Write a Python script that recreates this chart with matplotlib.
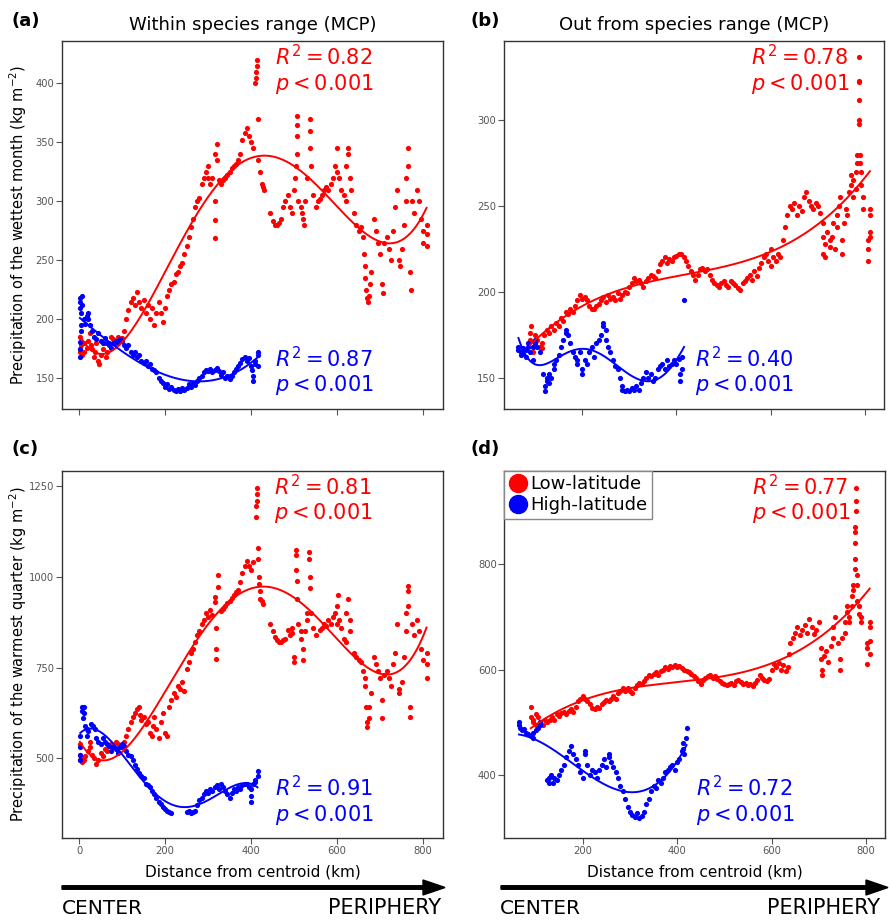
import numpy as np
import matplotlib.pyplot as plt
from matplotlib.patches import FancyArrow
from matplotlib.lines import Line2D

RED = '#ff0000'
BLUE = '#0000ff'

# (distance km, value)
a_low = [(2,185),(2,175),(3,172),(5,178),(8,170),(12,172),(12,180),(18,176),(22,182),(25,188),(28,178),(30,175),
         (35,168),(38,172),(40,180),(45,165),(47,162),(50,170),(55,175),(58,180),(62,168),(65,172),(70,180),(75,185),
         (80,183),(85,180),(90,185),(95,182),(100,184),(105,190),(110,200),(115,208),(120,215),(125,218),(130,212),
         (135,223),(140,215),(145,210),(150,216),(155,205),(160,212),(165,200),(170,210),(175,195),(180,205),(185,215),
         (190,205),(195,198),(200,210),(205,220),(210,225),(215,230),(220,232),(225,238),(230,240),(235,245),(240,248),
         (245,255),(250,262),(255,270),(260,278),(265,285),(270,295),(275,300),(280,303),(285,315),(290,320),(295,325),
         (300,330),(300,320),(305,315),(310,320),(315,340),(316,300),(316,284),(316,269),(320,349),(320,335),(325,318),
         (330,315),(335,318),(340,320),(345,322),(350,325),(355,328),(360,330),(365,332),(370,335),(375,340),(380,352),
         (385,358),(390,362),(395,355),(400,350),(405,345),(410,400),(411,405),(412,410),(413,415),(414,420),(415,370),
         (415,335),(420,325),(425,315),(428,312),(430,310),(445,290),(450,283),(455,280),(460,280),(465,282),(470,285),
         (475,295),(480,300),(485,305),(490,295),(495,290),(500,310),(502,320),(504,330),(506,372),(506,365),(506,355),
         (506,340),(510,300),(515,295),(518,290),(520,285),(523,280),(525,300),(530,320),(537,370),(537,360),(537,345),
         (540,330),(545,305),(550,295),(555,300),(560,302),(565,305),(570,310),(575,312),(580,310),(585,315),(590,320),
         (595,330),(600,325),(600,345),(605,320),(610,310),(615,305),(620,300),(620,330),(625,345),(625,340),(630,320),
         (633,310),(640,290),(645,280),(650,275),(655,278),(660,270),(663,255),(665,245),(666,235),(668,225),(670,218),
         (673,215),(675,220),(677,230),(680,240),(685,285),(690,275),(695,265),(700,255),(705,230),(706,222),(710,265),
         (715,270),(720,260),(725,250),(730,275),(735,295),(740,310),(745,250),(746,245),(750,260),(755,280),(760,300),
         (761,320),(765,345),(765,330),(770,240),(771,225),(775,300),(780,290),(785,310),(790,300),(795,285),(800,275),
         (800,265),(808,280),(808,272),(808,262)]
a_high = [(2,181),(2,175),(2,168),(3,218),(3,215),(3,210),(4,205),(4,195),(4,190),(8,220),(8,212),(12,200),(15,196),
          (18,203),(20,200),(22,205),(25,195),(30,190),(35,185),(40,183),(45,188),(50,182),(55,180),(60,184),(65,180),
          (70,178),(75,176),(80,180),(85,182),(90,180),(95,183),(100,182),(105,178),(110,176),(115,178),(120,172),
          (125,170),(130,172),(135,168),(140,170),(145,165),(150,163),(155,165),(160,160),(165,162),(170,158),(175,157),
          (180,155),(185,150),(190,148),(195,146),(200,143),(205,145),(210,141),(215,143),(220,140),(225,139),(230,141),
          (235,139),(240,142),(245,140),(250,142),(255,145),(260,143),(265,146),(270,144),(275,148),(280,150),(285,152),
          (290,155),(295,157),(300,156),(305,158),(310,155),(315,157),(320,159),(325,156),(330,153),(335,155),(340,150),
          (345,152),(350,149),(355,152),(360,155),(365,158),(370,160),(375,163),(380,166),(385,168),(390,165),(395,167),
          (400,160),(403,157),(405,152),(405,148),(410,162),(410,165),(415,170),(415,172),(415,160)]

b_low = [(90,172),(90,176),(92,180),(95,168),(96,165),(100,175),(100,170),(105,172),(110,168),(115,170),(115,167),
         (120,175),(125,178),(130,176),(135,180),(140,178),(145,182),(150,180),(155,185),(160,183),(165,188),(170,187),
         (175,190),(180,188),(185,192),(190,195),(195,198),(200,196),(205,197),(210,195),(215,192),(220,190),(225,190),
         (230,192),(235,193),(240,195),(245,197),(250,194),(255,198),(260,196),(265,197),(270,195),(275,199),(280,196),
         (285,198),(290,200),(295,199),(300,203),(305,205),(310,208),(315,206),(320,207),(325,205),(330,203),(335,206),
         (340,208),(345,210),(350,209),(355,208),(360,212),(365,216),(370,218),(375,220),(380,217),(385,219),(390,218),
         (395,220),(400,221),(405,222),(410,222),(415,220),(420,218),(425,215),(430,212),(435,210),(440,207),(445,210),
         (450,213),(455,214),(460,212),(465,213),(470,210),(475,207),(480,205),(485,204),(490,203),(495,205),(500,206),
         (505,204),(510,203),(515,206),(520,205),(525,204),(530,202),(535,201),(540,205),(545,206),(550,208),(555,210),
         (560,207),(565,212),(570,209),(575,214),(580,217),(585,220),(590,222),(595,218),(600,215),(600,225),(605,220),
         (610,218),(615,222),(620,220),(625,230),(630,238),(635,245),(640,250),(645,248),(650,252),(655,245),(660,250),
         (665,247),(670,255),(675,258),(680,253),(685,250),(690,248),(695,252),(700,250),(705,246),(710,240),(710,232),
         (711,222),(715,228),(715,220),(720,235),(725,230),(726,226),(730,232),(731,240),(735,225),(740,245),(741,238),
         (745,250),(746,255),(750,230),(751,222),(755,240),(760,248),(761,245),(765,258),(770,262),(770,268),(775,255),
         (775,265),(780,270),(780,260),(783,275),(783,280),(786,300),(786,298),(786,312),(786,322),(786,323),(786,337),
         (790,280),(790,275),(791,270),(791,262),(795,255),(795,248),(805,225),(805,218),(805,230),(810,245),(810,248),
         (810,235),(810,232)]
b_high = [(65,168),(65,166),(70,165),(70,163),(75,167),(75,164),(80,162),(80,166),(85,168),(85,170),(90,165),(95,160),
          (95,168),(100,170),(100,172),(105,168),(110,165),(118,152),(122,142),(122,145),(126,148),(126,150),(130,152),
          (130,147),(135,150),(140,155),(140,158),(145,160),(150,163),(155,168),(160,172),(165,176),(166,178),(170,175),
          (175,170),(180,165),(185,162),(190,160),(190,158),(195,165),(200,155),(200,152),(205,160),(210,158),(215,165),
          (220,168),(225,162),(230,170),(235,172),(240,175),(245,182),(245,180),(250,178),(250,172),(255,168),(260,165),
          (265,160),(270,157),(275,155),(280,150),(285,145),(285,143),(290,142),(295,143),(300,142),(305,144),(310,143),
          (315,145),(320,143),(325,147),(330,150),(335,153),(340,150),(345,152),(350,148),(355,150),(360,155),(365,157),
          (370,158),(375,155),(380,160),(385,157),(390,158),(395,160),(400,158),(405,161),(408,148),(408,152),(412,162),
          (412,155),(416,195)]

c_low = [(2,540),(2,510),(3,495),(5,500),(8,490),(12,495),(15,505),(20,520),(25,530),(26,545),(30,510),(35,500),
         (40,485),(45,495),(50,515),(55,505),(60,525),(65,520),(70,535),(75,540),(80,530),(85,545),(90,540),(95,535),
         (100,530),(105,545),(110,560),(115,580),(120,600),(125,615),(130,625),(135,635),(140,640),(142,620),(145,605),
         (150,615),(155,595),(160,600),(165,570),(170,560),(171,590),(175,615),(180,580),(185,555),(190,600),(195,625),
         (200,570),(205,560),(210,640),(215,660),(220,680),(225,670),(230,700),(235,690),(240,710),(245,685),(250,745),
         (255,765),(260,790),(265,800),(270,820),(275,840),(280,850),(285,870),(290,880),(295,900),(300,890),(305,910),
         (310,895),(315,930),(316,945),(318,860),(318,800),(318,775),(324,1006),(324,973),(330,905),(335,912),(340,920),
         (345,928),(350,935),(355,942),(360,950),(365,958),(370,965),(375,985),(380,1010),(385,1030),(390,1045),
         (395,1030),(400,1020),(405,1040),(412,1165),(412,1195),(413,1210),(413,1230),(414,1245),(415,1080),(415,1050),
         (418,1000),(418,980),(420,960),(420,940),(425,935),(428,925),(445,870),(450,850),(455,835),(460,825),(465,820),
         (470,822),(475,825),(480,830),(485,855),(490,840),(495,860),(495,845),(500,780),(501,765),(505,1075),(505,1060),
         (505,1020),(506,990),(506,940),(510,870),(515,850),(515,830),(520,800),(521,770),(525,850),(530,880),(531,900),
         (535,1070),(535,1050),(536,1000),(536,970),(540,900),(545,860),(550,840),(560,855),(565,860),(570,870),(575,865),
         (580,880),(585,870),(590,890),(595,900),(600,870),(600,920),(601,950),(605,880),(610,860),(615,830),(620,820),
         (620,900),(625,940),(630,880),(630,850),(640,790),(645,780),(650,770),(655,765),(660,740),(665,720),(665,700),
         (668,640),(670,600),(670,585),(675,610),(675,640),(680,680),(685,780),(690,760),(695,740),(700,720),(705,660),
         (705,610),(710,730),(715,740),(720,720),(725,700),(730,760),(735,790),(740,870),(745,690),(745,680),(750,710),
         (755,780),(760,850),(760,900),(765,975),(765,960),(765,920),(770,640),(770,615),(775,870),(780,840),(785,880),
         (790,850),(795,800),(800,770),(808,790),(808,760),(808,720)]
c_high = [(3,510),(3,495),(3,530),(3,560),(8,640),(8,630),(9,610),(12,625),(12,640),(15,590),(18,580),(18,560),(22,575),
          (28,595),(32,590),(36,580),(40,555),(45,545),(50,540),(55,555),(60,545),(65,540),(70,535),(75,520),(80,530),
          (85,525),(90,515),(95,530),(100,540),(105,535),(110,520),(115,510),(120,505),(125,495),(130,480),(135,470),
          (140,460),(145,450),(150,445),(155,430),(160,425),(165,420),(170,410),(175,400),(180,390),(185,380),(190,375),
          (195,365),(200,360),(205,355),(210,352),(215,350),(250,352),(255,355),(260,350),(265,353),(270,355),(275,370),
          (280,385),(285,390),(290,400),(295,410),(300,405),(305,415),(310,410),(315,420),(320,425),(325,415),(330,430),
          (335,420),(340,410),(345,400),(350,390),(355,405),(360,415),(365,410),(370,420),(375,415),(380,425),(385,430),
          (390,428),(395,420),(400,415),(400,395),(401,380),(405,430),(410,440),(410,435),(415,450),(415,465)]

d_low = [(90,510),(90,530),(95,500),(95,505),(100,495),(100,515),(105,510),(110,500),(115,495),(120,505),(125,500),
         (130,505),(135,510),(140,505),(145,515),(150,512),(155,518),(160,520),(165,515),(170,522),(175,525),(180,520),
         (185,530),(190,540),(195,545),(200,550),(205,545),(210,540),(215,535),(220,528),(225,525),(230,530),(235,528),
         (240,535),(245,538),(250,542),(255,540),(260,545),(265,550),(270,545),(275,555),(280,560),(285,565),(290,560),
         (295,565),(300,560),(305,555),(310,565),(315,570),(320,575),(325,572),(330,578),(335,585),(340,590),(345,588),
         (350,592),(355,595),(360,590),(365,598),(370,600),(375,605),(380,602),(385,607),(390,605),(395,608),(400,605),
         (405,606),(410,603),(415,600),(420,598),(425,595),(430,592),(435,588),(440,585),(445,578),(450,572),(455,580),
         (460,585),(465,588),(470,590),(475,585),(480,588),(485,582),(490,578),(495,575),(500,572),(505,570),(510,572),
         (515,575),(520,570),(525,578),(530,580),(535,576),(540,572),(545,575),(550,570),(555,572),(560,568),(565,575),
         (570,580),(575,590),(580,585),(585,580),(590,578),(595,582),(600,600),(605,610),(610,605),(615,612),(620,600),
         (625,608),(630,598),(635,605),(638,630),(640,650),(645,660),(650,670),(655,680),(660,665),(665,675),(670,685),
         (675,670),(680,695),(685,680),(690,668),(695,675),(700,690),(705,640),(705,620),(708,600),(708,590),(712,625),
         (715,635),(720,615),(725,645),(730,660),(730,680),(735,700),(740,650),(745,620),(745,600),(750,660),(755,670),
         (755,690),(760,720),(760,710),(765,700),(765,690),(770,740),(770,720),(773,760),(773,750),(776,790),(776,810),
         (776,840),(776,860),(777,870),(778,900),(778,920),(778,945),(781,780),(781,760),(781,730),(785,720),(785,705),
         (790,700),(790,690),(803,650),(803,640),(803,610),(808,690),(808,680),(808,655),(808,630)]
d_high = [(65,500),(65,495),(68,490),(72,485),(75,488),(80,480),(85,478),(90,475),(95,470),(95,480),(100,485),(105,490),
          (110,500),(110,495),(125,390),(128,385),(128,395),(132,400),(136,385),(140,395),(145,390),(150,400),(155,410),
          (160,420),(165,435),(170,445),(175,455),(180,440),(185,430),(190,420),(195,405),(200,395),(205,440),(205,445),
          (210,420),(215,400),(220,410),(225,405),(230,395),(235,410),(240,420),(245,430),(250,415),(255,440),(255,435),
          (260,425),(265,415),(270,405),(275,395),(280,380),(285,370),(290,355),(295,340),(300,330),(305,325),(310,320),
          (315,328),(320,318),(325,322),(330,330),(335,345),(340,355),(345,370),(350,380),(355,375),(360,390),(365,385),
          (370,395),(375,405),(380,410),(385,415),(390,420),(395,410),(400,425),(405,430),(410,445),(412,460),(412,450),
          (415,440),(418,470),(420,490)]

titles = ['Within species range (MCP)', 'Out from species range (MCP)']
ylabels = ['Precipitation of the wettest month (kg m$^{-2}$)',
           'Precipitation of the warmest quarter (kg m$^{-2}$)']
r2_low = ['0.82', '0.78', '0.81', '0.77']
r2_high = ['0.87', '0.40', '0.91', '0.72']

fig = plt.figure(figsize=(8.9, 9.24), dpi=100)

boxes = [[0.0697, 0.5574, 0.4284, 0.3983], [0.5660, 0.5574, 0.4276, 0.3983],
         [0.0697, 0.0927, 0.4284, 0.3978], [0.5666, 0.0927, 0.4278, 0.3978]]
data = [(a_low, a_high, 5, 3), (b_low, b_high, 3, 5), (c_low, c_high, 5, 4), (d_low, d_high, 3, 3)]
xlims = [(-39.5, 847), (33.8, 840.5), (-39.5, 847), (33.8, 840.5)]
ylims = [(124, 436), (131.7, 346.2), (279, 1293), (280, 977)]
xticks = [[0, 200, 400, 600, 800], [200, 400, 600, 800]] * 2
yticks = [[150, 200, 250, 300, 350, 400], [150, 200, 250, 300], [500, 750, 1000, 1250], [400, 600, 800]]
letters = ['(a)', '(b)', '(c)', '(d)']
letter_pos = [(25.5, 21.5), (485, 21.5), (25.5, 448.5), (485, 448.5)]
low_tx = [0.559, 0.65, 0.556, 0.65]
high_tx = [0.559, 0.503, 0.559, 0.503]

for i in range(4):
    ax = fig.add_axes(boxes[i])
    low, high, dl, dh = data[i]
    for pts, col, deg in [(low, RED, dl), (high, BLUE, dh)]:
        p = np.array(pts, dtype=float)
        ax.scatter(p[:, 0], p[:, 1], s=14, color=col, linewidths=0, zorder=2)
        coef = np.polyfit(p[:, 0], p[:, 1], deg)
        xs = np.linspace(p[:, 0].min(), p[:, 0].max(), 300)
        ax.plot(xs, np.polyval(coef, xs), color=col, lw=1.4, zorder=3)
    ax.set_xlim(*xlims[i])
    ax.set_ylim(*ylims[i])
    ax.set_xticks(xticks[i])
    ax.set_yticks(yticks[i])
    ax.tick_params(direction='out', length=4, width=0.8, color='#555555',
                   labelcolor='#555555', labelsize=7.2, pad=1.5)
    for sp in ax.spines.values():
        sp.set_color('#333333')
        sp.set_linewidth(1.0)

    ax.text(low_tx[i], 0.957, r'$R^2 = ' + r2_low[i] + '$', color=RED, fontsize=15,
            transform=ax.transAxes, ha='left', va='center')
    ax.text(low_tx[i], 0.884, r'$p < 0.001$', color=RED, fontsize=15,
            transform=ax.transAxes, ha='left', va='center')
    ax.text(high_tx[i], 0.138, r'$R^2 = ' + r2_high[i] + '$', color=BLUE, fontsize=15,
            transform=ax.transAxes, ha='left', va='center')
    ax.text(high_tx[i], 0.064, r'$p < 0.001$', color=BLUE, fontsize=15,
            transform=ax.transAxes, ha='left', va='center')

    if i < 2:
        ax.tick_params(labelbottom=False)
        ax.set_title(titles[i], fontsize=13, pad=8)
    else:
        ax.set_xlabel('Distance from centroid (km)', fontsize=11)
        ax.xaxis.set_label_coords(0.5, -0.07)
    if i % 2 == 0:
        ax.set_ylabel(ylabels[i // 2], fontsize=10.5)
        ax.yaxis.set_label_coords(-0.086, 0.5)

    if i == 3:
        handles = [Line2D([], [], ls='', marker='o', color=RED, markersize=13),
                   Line2D([], [], ls='', marker='o', color=BLUE, markersize=13)]
        ax.legend(handles, ['Low-latitude', 'High-latitude'], loc='upper left',
                  bbox_to_anchor=(0, 1), borderaxespad=0, fontsize=13, fancybox=False,
                  edgecolor='#888888', framealpha=1, handletextpad=0.2, handlelength=1.0,
                  borderpad=0.25, labelspacing=0.15)

    lx, ly = letter_pos[i]
    fig.text(lx / 890, 1 - ly / 924, letters[i], fontsize=13, fontweight='bold',
             ha='center', va='center')

# arrows CENTER -> PERIPHERY
for x0, x1 in [(62, 445), (501, 888)]:
    fig.add_artist(FancyArrow(x0 / 890, 1 - 887.5 / 924, (x1 - x0) / 890, 0,
                              width=3.5 / 924, head_width=15 / 924, head_length=22 / 890,
                              length_includes_head=True, color='black',
                              transform=fig.transFigure))
for xl, xr in [(62, 441), (500, 880)]:
    fig.text(xl / 890, 1 - 908 / 924, 'CENTER', fontsize=14.5, ha='left', va='center')
    fig.text(xr / 890, 1 - 908 / 924, 'PERIPHERY', fontsize=15, ha='right', va='center')

fig.savefig('out.png', dpi=100)
